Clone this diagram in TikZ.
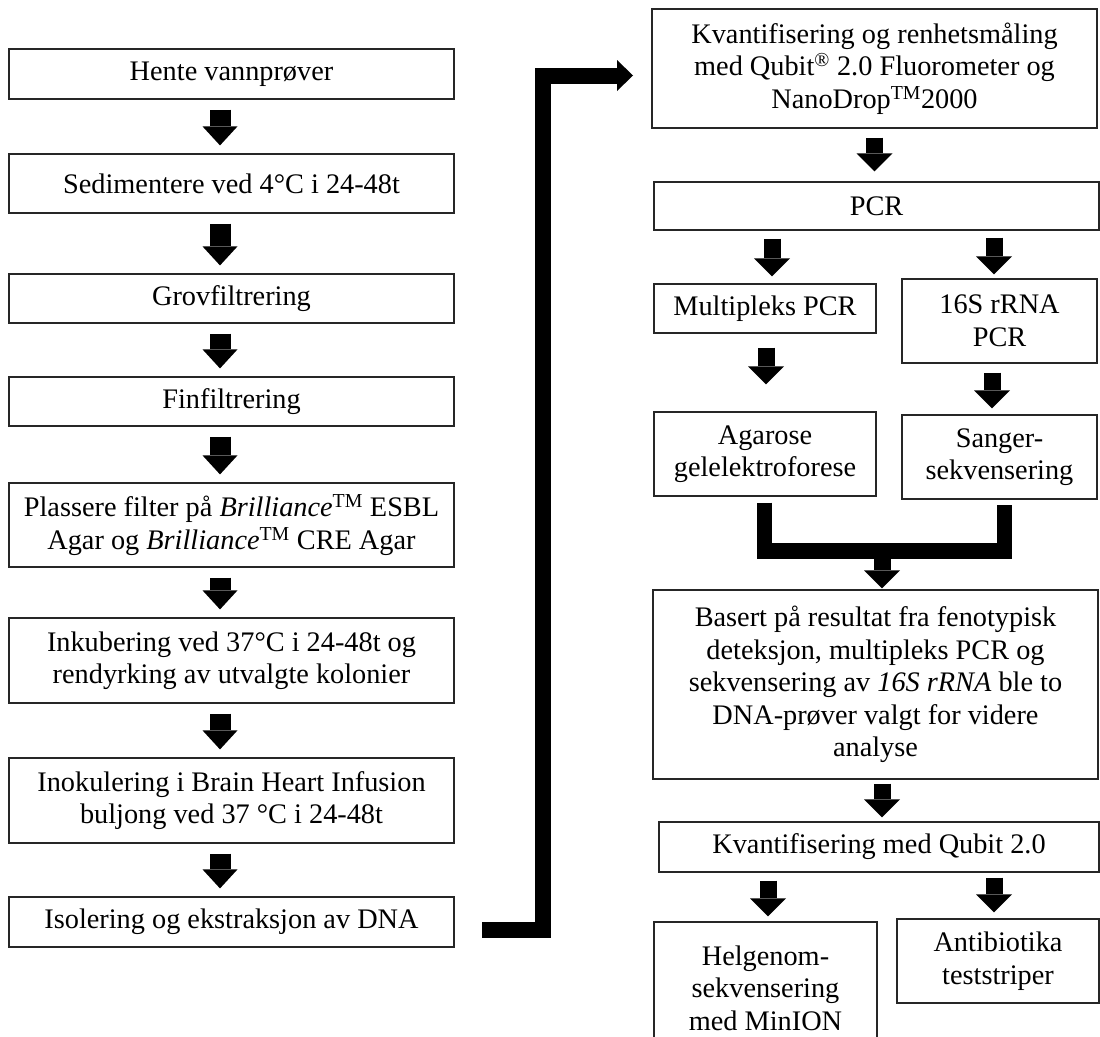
\documentclass[tikz,border=0pt]{standalone}
\usepackage{fontspec}
\setmainfont{Liberation Serif}
\usetikzlibrary{arrows.meta,calc}
\begin{document}
\begin{tikzpicture}[x=1pt,y=-1pt,
  box/.style={draw=black!85, line width=1.2pt, align=center, inner sep=0pt,
    font=\fontsize{28.3}{32.5}\selectfont},
  sz/.style 2 args={minimum width=#1pt, minimum height=#2pt},
  darr/.style={line width=21pt, -{Triangle[width=35pt,length=19pt,line width=0pt]}},
  rarr/.style={line width=17pt, -{Triangle[width=36pt,length=18pt,line width=0pt]}},
  bigline/.style={line width=16pt, -{Triangle[width=31pt,length=16pt,line width=0pt]}},
  mergeline/.style={line width=15.5pt}]
\useasboundingbox (0,0) rectangle (1100,1036);
% left column
\node[box, sz={445}{50}] (b1) at (231.5,74) {Hente vannprøver};
\node[box, sz={445}{59}] (b2) at (231.5,183.5) {Sedimentere ved 4°C i 24-48t};
\node[box, sz={445}{49}] (b3) at (231.5,298.5) {Grovfiltrering};
\node[box, sz={445}{49}] (b4) at (231.5,401.5) {Finfiltrering};
\node[box, sz={445}{84}] (b5) at (231.5,525) {Plassere filter på \textit{Brilliance}\textsuperscript{TM} ESBL\\Agar og \textit{Brilliance}\textsuperscript{TM} CRE Agar};
\node[box, sz={445}{85}] (b6) at (231.5,660.5) {Inkubering ved 37°C i 24-48t og\\rendyrking av utvalgte kolonier};
\node[box, sz={445}{85}] (b7) at (231.5,800.5) {Inokulering i Brain Heart Infusion\\buljong ved 37 °C i 24-48t};
\node[box, sz={445}{50}] (b8) at (231.5,922) {Isolering og ekstraksjon av DNA};
\foreach \a/\b in {b1/b2,b2/b3,b3/b4,b4/b5,b5/b6,b6/b7,b7/b8}
  \draw[darr] ([xshift=-11.5pt,yshift=-10pt]\a.south) -- ([xshift=-11.5pt,yshift=8pt]\b.north);
% big connector
\coordinate (c1) at (482,930);
\coordinate (c2) at (542.5,75.5);
\coordinate (c3) at (633,75.5);
\draw[bigline] (c1) -| (c2) -- (c3);
% right column
\node[box, sz={445}{119}] (k1) at (874.5,68.5) {Kvantifisering og renhetsmåling\\med Qubit\textsuperscript{®} 2.0 Fluorometer og\\NanoDrop\textsuperscript{TM}2000};
\node[box, sz={445}{48}] (pcr) at (876.5,206) {PCR};
\node[box, sz={222}{49}] (mp) at (765,308.5) {Multipleks PCR};
\node[box, sz={195}{84}] (rs) at (999.5,321) {16S rRNA\\PCR};
\node[box, sz={222}{84}] (ag) at (765,454) {Agarose\\gelelektroforese};
\node[box, sz={195}{84}] (sa) at (999.5,457) {Sanger-\\sekvensering};
\node[box, sz={445}{189}] (ba) at (875.5,684.5) {Basert på resultat fra fenotypisk\\deteksjon, multipleks PCR og\\sekvensering av \textit{16S rRNA} ble to\\DNA-prøver valgt for videre\\analyse};
\node[box, sz={440}{50}] (kq) at (879,847) {Kvantifisering med Qubit 2.0};
\node[box, sz={223}{132}] (hg) at (765.5,988) {Helgenom-\\sekvensering\\med MinION};
\node[box, sz={202}{84}] (ab) at (998,961) {Antibiotika\\teststriper};
% right column arrows
\draw[rarr] ([yshift=-9pt]k1.south) -- ([yshift=10pt]pcr.north -| k1.south);
\draw[rarr] ([xshift=-104.5pt,yshift=-8pt]pcr.south) -- ([xshift=7pt,yshift=7pt]mp.north);
\draw[rarr] ([xshift=117.5pt,yshift=-7pt]pcr.south) -- ([xshift=-5.5pt,yshift=4pt]rs.north);
\draw[rarr] ([xshift=1pt,yshift=-14pt]mp.south) -- ([xshift=1pt,yshift=27pt]ag.north);
\draw[rarr] ([xshift=-7.5pt,yshift=-9pt]rs.south) -- ([xshift=-7.5pt,yshift=6pt]sa.north);
\coordinate (mc) at (882,551);
\draw[mergeline] ([xshift=-0.5pt,yshift=-6pt]ag.south) |- (mc) -| ([xshift=5pt,yshift=-5pt]sa.south);
\draw[rarr] (mc) -- ([yshift=1pt]mc |- ba.north);
\draw[rarr] ([xshift=6.5pt,yshift=-4pt]ba.south) -- ([xshift=3pt,yshift=4pt]kq.north);
\draw[rarr] ([xshift=-111pt,yshift=-8pt]kq.south) -- ([xshift=2.5pt,yshift=5pt]hg.north);
\draw[rarr] ([xshift=115pt,yshift=-5pt]kq.south) -- ([xshift=-4pt,yshift=6pt]ab.north);
\end{tikzpicture}
\end{document}
